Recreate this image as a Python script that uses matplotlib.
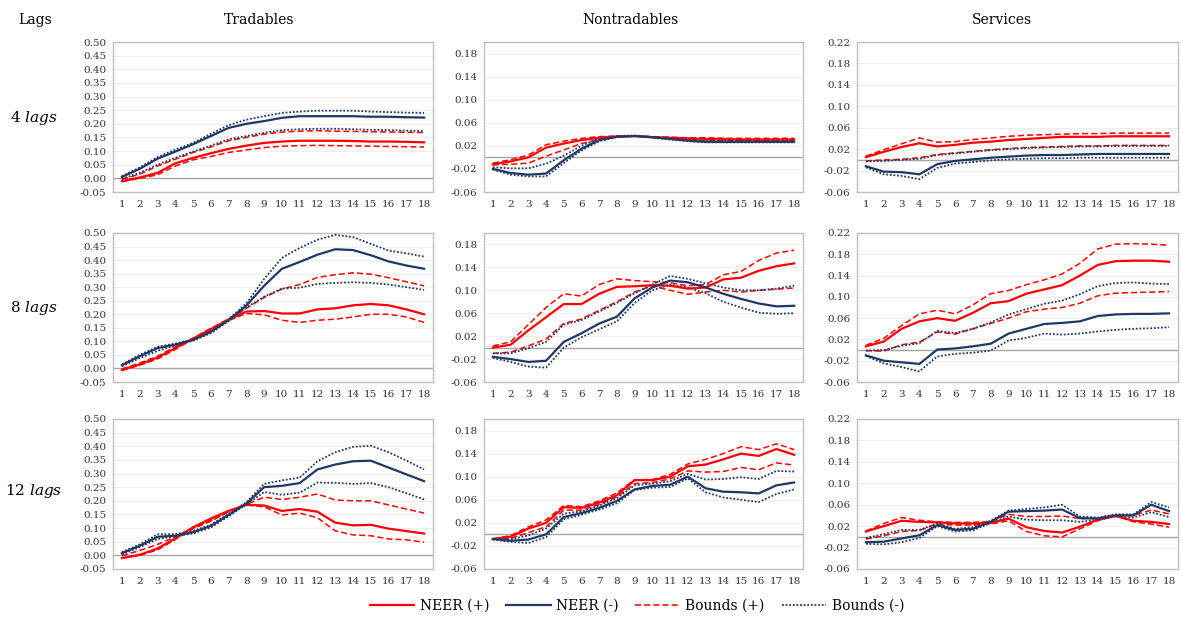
import numpy as np
import matplotlib
matplotlib.use("Agg")
import matplotlib.pyplot as plt
from matplotlib.lines import Line2D

plt.rcParams["font.family"] = ["DejaVu Serif"]
plt.rcParams["mathtext.fontset"] = "dejavuserif"

horizons = list(range(1, 18 + 1))
columns = ["Tradables", "Nontradables", "Services"]
row_labels = ["4", "8", "12"]

# ---- Tradables ----
t4_pos = [-0.010, 0.003, 0.020, 0.055, 0.075, 0.092, 0.108, 0.120, 0.130, 0.135, 0.138, 0.138, 0.138, 0.137, 0.135, 0.135, 0.134, 0.132]
t4_pos_hi = [-0.003, 0.015, 0.045, 0.070, 0.095, 0.115, 0.138, 0.150, 0.162, 0.170, 0.173, 0.175, 0.173, 0.172, 0.171, 0.170, 0.169, 0.168]
t4_pos_lo = [-0.012, 0.000, 0.013, 0.045, 0.068, 0.080, 0.095, 0.104, 0.113, 0.118, 0.120, 0.121, 0.120, 0.119, 0.118, 0.117, 0.116, 0.115]
t4_neg = [0.005, 0.035, 0.072, 0.098, 0.125, 0.155, 0.185, 0.200, 0.210, 0.222, 0.228, 0.228, 0.228, 0.228, 0.226, 0.226, 0.224, 0.223]
t4_neg_hi = [0.008, 0.040, 0.078, 0.105, 0.130, 0.163, 0.195, 0.215, 0.228, 0.240, 0.245, 0.248, 0.248, 0.248, 0.245, 0.243, 0.241, 0.240]
t4_neg_lo = [-0.002, 0.020, 0.050, 0.075, 0.098, 0.120, 0.143, 0.155, 0.167, 0.177, 0.180, 0.182, 0.182, 0.180, 0.178, 0.177, 0.175, 0.174]

t8_pos = [-0.005, 0.015, 0.040, 0.075, 0.110, 0.145, 0.180, 0.210, 0.212, 0.203, 0.203, 0.218, 0.222, 0.233, 0.238, 0.233, 0.218, 0.200]
t8_pos_hi = [-0.002, 0.020, 0.045, 0.080, 0.112, 0.148, 0.183, 0.222, 0.262, 0.293, 0.310, 0.336, 0.346, 0.353, 0.348, 0.335, 0.320, 0.305]
t8_pos_lo = [-0.008, 0.012, 0.035, 0.070, 0.108, 0.142, 0.177, 0.203, 0.198, 0.178, 0.170, 0.178, 0.182, 0.190, 0.200, 0.200, 0.190, 0.170]
t8_neg = [0.012, 0.045, 0.075, 0.088, 0.105, 0.135, 0.178, 0.232, 0.305, 0.368, 0.393, 0.420, 0.440, 0.437, 0.418, 0.395, 0.380, 0.368]
t8_neg_hi = [0.015, 0.050, 0.080, 0.092, 0.107, 0.140, 0.182, 0.240, 0.330, 0.408, 0.445, 0.475, 0.493, 0.485, 0.460, 0.435, 0.425, 0.413]
t8_neg_lo = [0.008, 0.038, 0.065, 0.085, 0.102, 0.130, 0.175, 0.225, 0.265, 0.295, 0.298, 0.312, 0.316, 0.318, 0.316, 0.310, 0.300, 0.290]

t12_pos = [-0.010, 0.002, 0.025, 0.062, 0.103, 0.135, 0.163, 0.185, 0.183, 0.163, 0.170, 0.160, 0.120, 0.110, 0.112, 0.098, 0.089, 0.080]
t12_pos_hi = [-0.002, 0.018, 0.040, 0.068, 0.100, 0.128, 0.160, 0.187, 0.213, 0.205, 0.213, 0.225, 0.203, 0.200, 0.200, 0.185, 0.170, 0.155]
t12_pos_lo = [-0.010, 0.000, 0.020, 0.058, 0.098, 0.125, 0.160, 0.185, 0.178, 0.148, 0.155, 0.138, 0.090, 0.075, 0.072, 0.060, 0.057, 0.048]
t12_neg = [0.008, 0.035, 0.068, 0.072, 0.085, 0.108, 0.148, 0.190, 0.250, 0.255, 0.265, 0.315, 0.333, 0.345, 0.347, 0.322, 0.297, 0.272]
t12_neg_hi = [0.012, 0.040, 0.077, 0.078, 0.090, 0.112, 0.152, 0.195, 0.262, 0.275, 0.285, 0.345, 0.378, 0.398, 0.402, 0.378, 0.348, 0.315]
t12_neg_lo = [0.003, 0.030, 0.060, 0.070, 0.080, 0.102, 0.143, 0.187, 0.232, 0.222, 0.230, 0.267, 0.266, 0.262, 0.265, 0.250, 0.228, 0.205]

# ---- Nontradables ----
n4_pos = [-0.012, -0.007, 0.000, 0.017, 0.024, 0.030, 0.034, 0.036, 0.037, 0.035, 0.034, 0.033, 0.032, 0.032, 0.031, 0.031, 0.031, 0.031]
n4_pos_hi = [-0.010, -0.004, 0.004, 0.022, 0.028, 0.033, 0.036, 0.037, 0.037, 0.036, 0.035, 0.034, 0.034, 0.033, 0.033, 0.033, 0.033, 0.033]
n4_pos_lo = [-0.013, -0.012, -0.010, 0.002, 0.013, 0.024, 0.031, 0.035, 0.037, 0.035, 0.033, 0.031, 0.030, 0.030, 0.029, 0.029, 0.029, 0.029]
n4_neg = [-0.020, -0.027, -0.030, -0.028, -0.005, 0.015, 0.030, 0.036, 0.037, 0.035, 0.032, 0.029, 0.027, 0.027, 0.027, 0.027, 0.027, 0.027]
n4_neg_hi = [-0.017, -0.019, -0.019, -0.011, 0.003, 0.020, 0.033, 0.037, 0.038, 0.035, 0.033, 0.031, 0.029, 0.029, 0.029, 0.029, 0.029, 0.029]
n4_neg_lo = [-0.021, -0.030, -0.033, -0.033, -0.010, 0.012, 0.028, 0.035, 0.037, 0.034, 0.031, 0.028, 0.026, 0.026, 0.026, 0.026, 0.026, 0.026]

n8_pos = [0.000, 0.005, 0.030, 0.053, 0.076, 0.076, 0.094, 0.106, 0.107, 0.109, 0.108, 0.103, 0.105, 0.119, 0.122, 0.134, 0.142, 0.147]
n8_pos_hi = [0.003, 0.010, 0.040, 0.070, 0.094, 0.090, 0.110, 0.120, 0.117, 0.115, 0.113, 0.108, 0.110, 0.127, 0.133, 0.152, 0.165, 0.170]
n8_pos_lo = [-0.010, -0.008, 0.003, 0.015, 0.042, 0.050, 0.065, 0.080, 0.097, 0.108, 0.100, 0.093, 0.097, 0.100, 0.097, 0.100, 0.102, 0.104]
n8_neg = [-0.016, -0.020, -0.025, -0.023, 0.010, 0.025, 0.042, 0.054, 0.086, 0.105, 0.117, 0.114, 0.105, 0.094, 0.085, 0.077, 0.072, 0.073]
n8_neg_hi = [-0.010, -0.010, -0.001, 0.010, 0.040, 0.048, 0.063, 0.078, 0.095, 0.110, 0.125, 0.120, 0.112, 0.105, 0.100, 0.100, 0.103, 0.108]
n8_neg_lo = [-0.018, -0.025, -0.033, -0.035, 0.000, 0.018, 0.032, 0.046, 0.078, 0.100, 0.110, 0.105, 0.095, 0.080, 0.070, 0.061, 0.059, 0.060]

n12_pos = [-0.008, -0.004, 0.010, 0.020, 0.047, 0.046, 0.055, 0.068, 0.094, 0.094, 0.100, 0.118, 0.121, 0.130, 0.140, 0.136, 0.148, 0.138]
n12_pos_hi = [-0.008, -0.002, 0.013, 0.025, 0.050, 0.048, 0.058, 0.072, 0.095, 0.095, 0.104, 0.122, 0.130, 0.140, 0.152, 0.147, 0.157, 0.147]
n12_pos_lo = [-0.008, -0.007, 0.003, 0.013, 0.042, 0.042, 0.052, 0.065, 0.088, 0.090, 0.096, 0.110, 0.108, 0.109, 0.116, 0.112, 0.124, 0.120]
n12_neg = [-0.008, -0.011, -0.009, 0.000, 0.030, 0.037, 0.046, 0.058, 0.078, 0.084, 0.086, 0.100, 0.080, 0.074, 0.073, 0.071, 0.085, 0.090]
n12_neg_hi = [-0.008, -0.008, -0.002, 0.010, 0.036, 0.040, 0.050, 0.063, 0.085, 0.088, 0.092, 0.105, 0.095, 0.096, 0.099, 0.096, 0.110, 0.109]
n12_neg_lo = [-0.009, -0.013, -0.015, -0.005, 0.026, 0.034, 0.043, 0.054, 0.077, 0.081, 0.082, 0.097, 0.073, 0.064, 0.060, 0.056, 0.070, 0.078]

# ---- Services ----
s4_pos = [0.005, 0.015, 0.024, 0.031, 0.025, 0.028, 0.032, 0.034, 0.037, 0.039, 0.041, 0.043, 0.043, 0.043, 0.044, 0.044, 0.044, 0.044]
s4_pos_hi = [0.007, 0.019, 0.030, 0.041, 0.033, 0.034, 0.038, 0.041, 0.044, 0.046, 0.047, 0.048, 0.049, 0.049, 0.050, 0.050, 0.050, 0.050]
s4_pos_lo = [-0.002, 0.000, 0.001, 0.004, 0.010, 0.013, 0.016, 0.019, 0.021, 0.023, 0.024, 0.025, 0.026, 0.026, 0.027, 0.027, 0.027, 0.027]
s4_neg = [-0.012, -0.022, -0.023, -0.027, -0.008, -0.002, 0.001, 0.004, 0.006, 0.008, 0.009, 0.009, 0.010, 0.011, 0.011, 0.011, 0.011, 0.011]
s4_neg_hi = [-0.003, -0.002, 0.000, 0.002, 0.009, 0.012, 0.015, 0.018, 0.020, 0.022, 0.023, 0.024, 0.025, 0.025, 0.026, 0.026, 0.026, 0.026]
s4_neg_lo = [-0.014, -0.027, -0.030, -0.036, -0.015, -0.007, -0.004, -0.001, 0.001, 0.002, 0.003, 0.003, 0.004, 0.004, 0.004, 0.004, 0.004, 0.004]

s8_pos = [0.007, 0.016, 0.040, 0.054, 0.060, 0.055, 0.070, 0.088, 0.092, 0.106, 0.114, 0.122, 0.140, 0.160, 0.167, 0.168, 0.168, 0.166]
s8_pos_hi = [0.009, 0.022, 0.046, 0.068, 0.075, 0.068, 0.085, 0.106, 0.112, 0.123, 0.132, 0.143, 0.163, 0.190, 0.199, 0.200, 0.199, 0.197]
s8_pos_lo = [-0.001, -0.002, 0.010, 0.015, 0.034, 0.030, 0.040, 0.050, 0.060, 0.072, 0.077, 0.080, 0.088, 0.102, 0.107, 0.108, 0.109, 0.110]
s8_neg = [-0.010, -0.020, -0.023, -0.026, 0.001, 0.003, 0.007, 0.012, 0.031, 0.040, 0.049, 0.051, 0.054, 0.064, 0.067, 0.068, 0.068, 0.069]
s8_neg_hi = [-0.001, 0.000, 0.008, 0.013, 0.036, 0.032, 0.040, 0.052, 0.067, 0.077, 0.087, 0.093, 0.105, 0.120, 0.126, 0.127, 0.125, 0.124]
s8_neg_lo = [-0.011, -0.025, -0.032, -0.040, -0.012, -0.007, -0.005, -0.001, 0.018, 0.023, 0.031, 0.029, 0.031, 0.035, 0.038, 0.040, 0.041, 0.043]

s12_pos = [0.010, 0.020, 0.030, 0.028, 0.027, 0.025, 0.025, 0.026, 0.034, 0.018, 0.011, 0.008, 0.019, 0.032, 0.039, 0.030, 0.028, 0.024]
s12_pos_hi = [0.011, 0.025, 0.036, 0.031, 0.028, 0.027, 0.027, 0.029, 0.042, 0.038, 0.038, 0.039, 0.034, 0.035, 0.040, 0.040, 0.050, 0.043]
s12_pos_lo = [-0.004, 0.002, 0.010, 0.012, 0.024, 0.022, 0.022, 0.024, 0.030, 0.010, 0.002, 0.000, 0.015, 0.030, 0.040, 0.028, 0.024, 0.018]
s12_neg = [-0.010, -0.009, -0.003, 0.003, 0.022, 0.013, 0.015, 0.028, 0.047, 0.048, 0.049, 0.051, 0.035, 0.034, 0.040, 0.040, 0.060, 0.048]
s12_neg_hi = [-0.002, 0.005, 0.013, 0.013, 0.025, 0.015, 0.018, 0.030, 0.049, 0.052, 0.055, 0.060, 0.038, 0.036, 0.042, 0.042, 0.065, 0.055]
s12_neg_lo = [-0.013, -0.014, -0.010, -0.002, 0.020, 0.010, 0.012, 0.026, 0.038, 0.032, 0.031, 0.031, 0.028, 0.032, 0.038, 0.036, 0.046, 0.037]

panels = [
    [(t4_pos, t4_pos_hi, t4_pos_lo, t4_neg, t4_neg_hi, t4_neg_lo),
     (n4_pos, n4_pos_hi, n4_pos_lo, n4_neg, n4_neg_hi, n4_neg_lo),
     (s4_pos, s4_pos_hi, s4_pos_lo, s4_neg, s4_neg_hi, s4_neg_lo)],
    [(t8_pos, t8_pos_hi, t8_pos_lo, t8_neg, t8_neg_hi, t8_neg_lo),
     (n8_pos, n8_pos_hi, n8_pos_lo, n8_neg, n8_neg_hi, n8_neg_lo),
     (s8_pos, s8_pos_hi, s8_pos_lo, s8_neg, s8_neg_hi, s8_neg_lo)],
    [(t12_pos, t12_pos_hi, t12_pos_lo, t12_neg, t12_neg_hi, t12_neg_lo),
     (n12_pos, n12_pos_hi, n12_pos_lo, n12_neg, n12_neg_hi, n12_neg_lo),
     (s12_pos, s12_pos_hi, s12_pos_lo, s12_neg, s12_neg_hi, s12_neg_lo)],
]

y_limits = [(-0.05, 0.50), (-0.06, 0.20), (-0.06, 0.22)]
y_ticks = [np.arange(-0.05, 0.501, 0.05), np.arange(-0.06, 0.181, 0.04), np.arange(-0.06, 0.221, 0.04)]

RED = "#FF0000"
NAVY = "#1F3864"
GRID = "#EFEFEF"
FRAME = "#C0C0C0"

W, H = 1183, 618
col_x = [(113, 433), (484, 803), (857, 1178)]
row_y = [(42, 192), (233, 382), (419, 569)]

fig = plt.figure(figsize=(W / 100, H / 100), dpi=100)

for r in range(3):
    for c in range(3):
        x0, x1 = col_x[c]
        y0, y1 = row_y[r]
        ax = fig.add_axes([x0 / W, 1 - y1 / H, (x1 - x0) / W, (y1 - y0) / H])
        pos, pos_hi, pos_lo, neg, neg_hi, neg_lo = panels[r][c]

        for t in y_ticks[c]:
            if abs(t) > 1e-9:
                ax.axhline(t, color=GRID, lw=0.8, zorder=0)
        ax.axhline(0, color="#A6A6A6", lw=1.0, zorder=1)

        ax.plot(horizons, pos_hi, color=RED, lw=1.1, ls=(0, (4, 2)), zorder=3)
        ax.plot(horizons, pos_lo, color=RED, lw=1.1, ls=(0, (4, 2)), zorder=3)
        ax.plot(horizons, neg_hi, color=NAVY, lw=1.3, ls=(0, (1, 1)), zorder=3)
        ax.plot(horizons, neg_lo, color=NAVY, lw=1.3, ls=(0, (1, 1)), zorder=3)
        ax.plot(horizons, pos, color=RED, lw=1.6, zorder=4)
        ax.plot(horizons, neg, color=NAVY, lw=1.6, zorder=4)

        ax.set_xlim(0.5, 18.5)
        ax.set_ylim(*y_limits[c])
        ax.set_xticks(horizons)
        ax.set_yticks(y_ticks[c])
        ax.set_yticklabels([f"{v:.2f}" for v in y_ticks[c]])
        ax.tick_params(axis="both", length=0, labelsize=7.5, colors="#333333")
        ax.tick_params(axis="x", pad=6)
        ax.tick_params(axis="y", pad=5)
        for s in ax.spines.values():
            s.set_color(FRAME)
            s.set_linewidth(1.0)

fig.text(18 / W, 1 - 20 / H, "Lags", fontsize=10, ha="left", va="center")
for x, name in zip([259, 630, 1002], columns):
    fig.text(x / W, 1 - 20 / H, name, fontsize=10, ha="center", va="center")
for y, lag in zip([118, 308, 491], row_labels):
    fig.text(34 / W, 1 - y / H, lag + r" $\mathit{lags}$", fontsize=11, ha="center", va="center")

handles = [
    Line2D([], [], color=RED, lw=1.6),
    Line2D([], [], color=NAVY, lw=1.6),
    Line2D([], [], color=RED, lw=1.1, ls=(0, (4, 2))),
    Line2D([], [], color=NAVY, lw=1.3, ls=(0, (1, 1))),
]
fig.legend(handles, ["NEER (+)", "NEER (-)", "Bounds (+)", "Bounds (-)"],
           loc="center", bbox_to_anchor=(637 / W, 1 - 606 / H), ncol=4,
           frameon=False, fontsize=10, handlelength=3.2, columnspacing=1.2,
           handletextpad=0.4)

fig.savefig("out.png", dpi=100)
